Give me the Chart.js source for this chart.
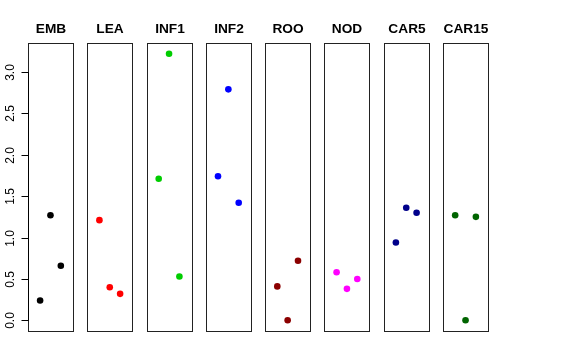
<!DOCTYPE html>
<html>
<head>
<meta charset="utf-8">
<script src="https://cdn.jsdelivr.net/npm/chart.js@4"></script>
<style>
  html, body { margin: 0; padding: 0; background: #fff; }
  #wrap { width: 576px; height: 360px; }
</style>
</head>
<body>
<div id="wrap"><canvas id="stripChart" width="576" height="360"></canvas></div>
<script>
// tissue groups, one panel each
var categories = ['EMB', 'LEA', 'INF1', 'INF2', 'ROO', 'NOD', 'CAR5', 'CAR15'];
var colors = ['#000000', '#FF0000', '#00CD00', '#0000FF', '#8B0000', '#FF00FF', '#00008B', '#006400'];

// three replicates per group
var rep1 = [0.24, 1.21, 1.71, 1.74, 0.41, 0.58, 0.94, 1.27];
var rep2 = [1.27, 0.40, 3.22, 2.79, 0.00, 0.38, 1.36, 0.00];
var rep3 = [0.66, 0.32, 0.53, 1.42, 0.72, 0.50, 1.30, 1.25];

var yTicks = [0, 0.5, 1, 1.5, 2, 2.5, 3];
var yTickLabels = ['0.0', '0.5', '1.0', '1.5', '2.0', '2.5', '3.0'];

// panel layout in x units
var pitch = 5.727;
var halfW = 2.17;

var datasets = categories.map(function (name, i) {
  var vals = [rep1[i], rep2[i], rep3[i]];
  return {
    label: name,
    data: vals.map(function (v, j) { return { x: i * pitch + j + 1, y: v }; }),
    backgroundColor: colors[i],
    borderWidth: 0,
    pointRadius: 3.3,
    pointHoverRadius: 3.3
  };
});

var panelPlugin = {
  id: 'panels',
  beforeDatasetsDraw: function (chart) {
    var ctx = chart.ctx, xs = chart.scales.x, ys = chart.scales.y;
    var top = ys.getPixelForValue(ys.max), bottom = ys.getPixelForValue(ys.min);
    ctx.save();
    ctx.strokeStyle = '#222';
    ctx.lineWidth = 1;
    categories.forEach(function (name, i) {
      var l = Math.round(xs.getPixelForValue(i * pitch + 2 - halfW)) + 0.5;
      var r = Math.round(xs.getPixelForValue(i * pitch + 2 + halfW)) + 0.5;
      ctx.strokeRect(l, Math.round(top) + 0.5, r - l, Math.round(bottom) - Math.round(top));
      ctx.fillStyle = '#000';
      ctx.font = 'bold 13.7px "Liberation Sans", Arial, sans-serif';
      ctx.textAlign = 'center';
      ctx.textBaseline = 'middle';
      ctx.fillText(name, (l + r) / 2, 29.5);
    });

    // left axis
    var ax = Math.round(xs.getPixelForValue(2 - halfW)) + 0.5;
    var y0 = Math.round(ys.getPixelForValue(yTicks[0])) + 0.5;
    var y1 = Math.round(ys.getPixelForValue(yTicks[yTicks.length - 1])) + 0.5;
    ctx.strokeStyle = '#000';
    ctx.beginPath();
    ctx.moveTo(ax, y0);
    ctx.lineTo(ax, y1);
    ctx.stroke();
    ctx.font = '12px "Liberation Sans", Arial, sans-serif';
    yTicks.forEach(function (t, k) {
      var py = Math.round(ys.getPixelForValue(t)) + 0.5;
      ctx.beginPath();
      ctx.moveTo(ax - 7, py);
      ctx.lineTo(ax, py);
      ctx.stroke();
      ctx.save();
      ctx.translate(13.5, py);
      ctx.rotate(-Math.PI / 2);
      ctx.textAlign = 'center';
      ctx.textBaseline = 'alphabetic';
      ctx.fillText(yTickLabels[k], 0, 0);
      ctx.restore();
    });
    ctx.restore();
  }
};

new Chart(document.getElementById('stripChart').getContext('2d'), {
  type: 'scatter',
  data: { datasets: datasets },
  options: {
    responsive: false,
    animation: false,
    events: [],
    layout: { padding: { left: 28, right: 88, top: 43, bottom: 29 } },
    plugins: { legend: { display: false }, tooltip: { enabled: false } },
    scales: {
      x: { type: 'linear', display: false, min: 2 - halfW, max: 7 * pitch + 2 + halfW },
      y: { type: 'linear', display: false, min: -0.129, max: 3.35 }
    }
  },
  plugins: [panelPlugin]
});
</script>
</body>
</html>
